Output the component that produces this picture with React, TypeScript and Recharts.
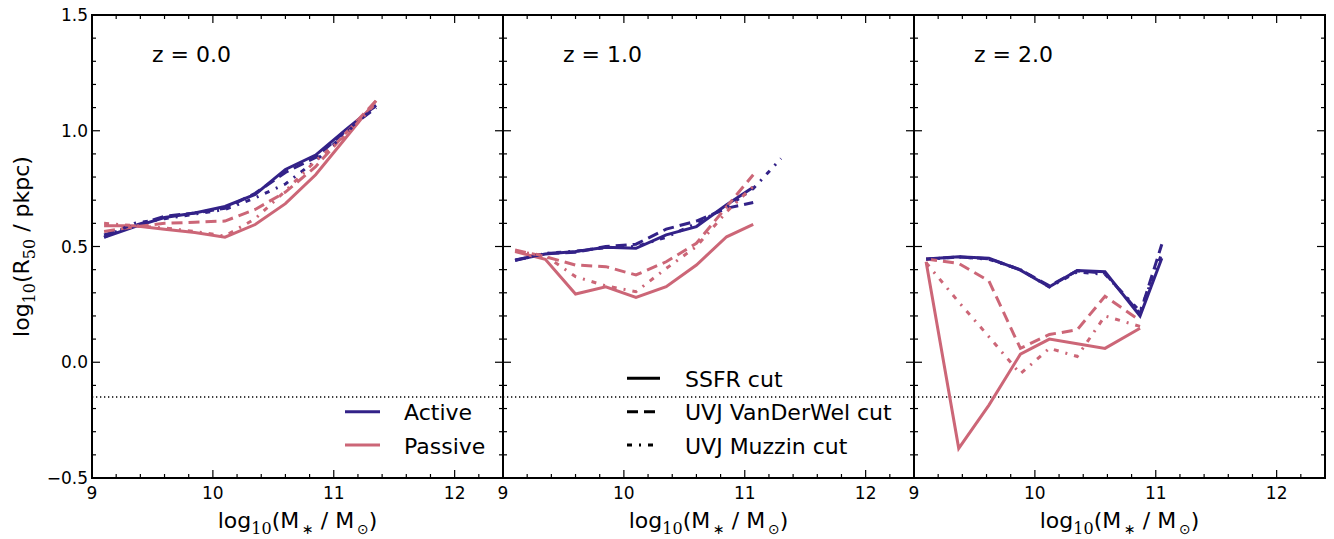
import React from "react";
import {
  Legend,
  Line,
  LineChart,
  ReferenceArea,
  ReferenceLine,
  XAxis,
  YAxis,
} from "recharts";

const ACTIVE = "#332288";
const PASSIVE = "#CC6677";
const FONT = "'DejaVu Sans', sans-serif";
const MATH = "'DejaVu Serif', serif";

// geometry of one panel inside its own chart (chart coords)
const PLOT_LEFT = 90;
const PLOT_TOP = 15;
const PLOT_W = 411;
const PLOT_H = 463;
const CHART_W = PLOT_LEFT + PLOT_W + 10;
const CHART_H = 539;
const PANEL_LEFTS = [92, 503, 914];

// axis ticks
const xTicks = [9, 9.2, 9.4, 9.6, 9.8, 10, 10.2, 10.4, 10.6, 10.8, 11, 11.2, 11.4, 11.6, 11.8, 12, 12.2];
const xMajor = [9, 10, 11, 12];
const yTicks = [
  -0.5, -0.4, -0.3, -0.2, -0.1, 0, 0.1, 0.2, 0.3, 0.4, 0.5, 0.6, 0.7, 0.8, 0.9,
  1, 1.1, 1.2, 1.3, 1.4, 1.5,
];
const yMajor = [-0.5, 0, 0.5, 1, 1.5];
const yMajorLabels = ["\u22120.5", "0.0", "0.5", "1.0", "1.5"];

// z = 0.0
const z0Mass = [9.1, 9.35, 9.6, 9.85, 10.1, 10.35, 10.6, 10.85, 11.1, 11.35];
const z0ActiveSsfr = [0.54, 0.585, 0.625, 0.645, 0.673, 0.725, 0.833, 0.895, 1.005, 1.11];
const z0ActiveVdw = [0.55, 0.59, 0.63, 0.645, 0.665, 0.73, 0.82, 0.885, 1.0, 1.1];
const z0ActiveMuzzin = [0.54, 0.6, 0.62, 0.64, 0.66, 0.71, 0.77, 0.87, 0.99, 1.11];
const z0PassiveSsfr = [0.59, 0.59, 0.575, 0.56, 0.54, 0.595, 0.685, 0.81, 0.97, 1.13];
const z0PassiveVdw = [0.565, 0.585, 0.6, 0.605, 0.61, 0.66, 0.735, 0.845, 0.99, 1.13];
const z0PassiveMuzzin = [0.6, 0.59, 0.58, 0.565, 0.545, 0.62, 0.74, 0.87, 0.98, 1.12];

// z = 1.0
const z1Mass = [9.1, 9.35, 9.6, 9.85, 10.1, 10.35, 10.6, 10.85, 11.07, 11.3];
const z1ActiveSsfr = [0.442, 0.468, 0.478, 0.497, 0.492, 0.55, 0.586, 0.68, 0.756, null];
const z1ActiveVdw = [0.44, 0.47, 0.475, 0.5, 0.51, 0.575, 0.61, 0.665, 0.69, null];
const z1ActiveMuzzin = [0.44, 0.47, 0.48, 0.495, 0.5, 0.54, 0.6, 0.67, 0.75, 0.88];
const z1PassiveSsfr = [0.478, 0.445, 0.295, 0.326, 0.28, 0.326, 0.42, 0.542, 0.596, null];
const z1PassiveVdw = [0.485, 0.456, 0.42, 0.413, 0.377, 0.434, 0.514, 0.672, 0.81, null];
const z1PassiveMuzzin = [0.48, 0.46, 0.37, 0.33, 0.305, 0.405, 0.5, 0.65, 0.76, null];

// z = 2.0
const z2Mass = [9.1, 9.37, 9.62, 9.88, 10.12, 10.35, 10.58, 10.87, 11.05];
const z2ActiveSsfr = [0.446, 0.456, 0.449, 0.398, 0.326, 0.396, 0.391, 0.2, 0.449];
const z2ActiveVdw = [0.445, 0.455, 0.447, 0.4, 0.33, 0.395, 0.385, 0.21, 0.51];
const z2ActiveMuzzin = [0.445, 0.455, 0.445, 0.4, 0.325, 0.39, 0.38, 0.22, 0.47];
const z2PassiveSsfr = [0.434, -0.372, -0.185, 0.035, 0.1, 0.08, 0.06, 0.147, null];
const z2PassiveVdw = [0.446, 0.427, 0.351, 0.06, 0.12, 0.14, 0.285, 0.18, null];
const z2PassiveMuzzin = [0.43, 0.26, 0.11, -0.05, 0.06, 0.025, 0.2, 0.155, null];

const cuts = [
  { key: "ssfr", label: "SSFR cut", dash: undefined as string | undefined },
  { key: "vdw", label: "UVJ VanDerWel cut", dash: "11 6" },
  { key: "muzzin", label: "UVJ Muzzin cut", dash: "5 7 2 7" },
];

type Pt = { x: number; y: number };
const toPoints = (mass: number[], vals: (number | null)[]): Pt[] =>
  mass
    .map((x, i) => ({ x, y: vals[i] }))
    .filter((p): p is Pt => p.y !== null);

const panels = [
  {
    z: "0.0",
    active: {
      ssfr: toPoints(z0Mass, z0ActiveSsfr),
      vdw: toPoints(z0Mass, z0ActiveVdw),
      muzzin: toPoints(z0Mass, z0ActiveMuzzin),
    },
    passive: {
      ssfr: toPoints(z0Mass, z0PassiveSsfr),
      vdw: toPoints(z0Mass, z0PassiveVdw),
      muzzin: toPoints(z0Mass, z0PassiveMuzzin),
    },
  },
  {
    z: "1.0",
    active: {
      ssfr: toPoints(z1Mass, z1ActiveSsfr),
      vdw: toPoints(z1Mass, z1ActiveVdw),
      muzzin: toPoints(z1Mass, z1ActiveMuzzin),
    },
    passive: {
      ssfr: toPoints(z1Mass, z1PassiveSsfr),
      vdw: toPoints(z1Mass, z1PassiveVdw),
      muzzin: toPoints(z1Mass, z1PassiveMuzzin),
    },
  },
  {
    z: "2.0",
    active: {
      ssfr: toPoints(z2Mass, z2ActiveSsfr),
      vdw: toPoints(z2Mass, z2ActiveVdw),
      muzzin: toPoints(z2Mass, z2ActiveMuzzin),
    },
    passive: {
      ssfr: toPoints(z2Mass, z2PassiveSsfr),
      vdw: toPoints(z2Mass, z2PassiveVdw),
      muzzin: toPoints(z2Mass, z2PassiveMuzzin),
    },
  },
];

function XTick(props: any) {
  const { x, y, payload } = props;
  const v = payload?.value;
  const major = xMajor.includes(v);
  const len = major ? 8 : 4;
  return (
    <g>
      <line x1={x} y1={y} x2={x} y2={y - len} stroke="#000" strokeWidth={1.2} />
      <line x1={x} y1={PLOT_TOP} x2={x} y2={PLOT_TOP + len} stroke="#000" strokeWidth={1.2} />
      {major && (
        <text x={x} y={y + 21} textAnchor="middle" fontSize={17} fontFamily={FONT} fill="#000">
          {v}
        </text>
      )}
    </g>
  );
}

function YTick(props: any) {
  const { x, y, payload, showLabel } = props;
  const v = payload?.value;
  const idx = yMajor.indexOf(v);
  const len = idx >= 0 ? 8 : 4;
  return (
    <g>
      <line x1={x} y1={y} x2={x + len} y2={y} stroke="#000" strokeWidth={1.2} />
      <line x1={x + PLOT_W} y1={y} x2={x + PLOT_W - len} y2={y} stroke="#000" strokeWidth={1.2} />
      {showLabel && idx >= 0 && (
        <text x={x - 4} y={y + 6} textAnchor="end" fontSize={17} fontFamily={FONT} fill="#000">
          {yMajorLabels[idx]}
        </text>
      )}
    </g>
  );
}

function XTitle() {
  return (
    <text
      x={PLOT_LEFT + PLOT_W / 2}
      y={PLOT_TOP + PLOT_H + 50}
      textAnchor="middle"
      fontSize={22}
      fontFamily={FONT}
      fill="#000"
    >
      log
      <tspan dy={6} fontSize={16} fontFamily={MATH}>10</tspan>
      <tspan dy={-6}>(M</tspan>
      <tspan dy={6} fontSize={14}>{"\u2009\u2217"}</tspan>
      <tspan dy={-6}> / M</tspan>
      <tspan dy={6} fontSize={14}>{"\u2009\u2299"}</tspan>
      <tspan dy={-6}>)</tspan>
    </text>
  );
}

function YTitle() {
  const cx = PLOT_LEFT - 63;
  const cy = PLOT_TOP + PLOT_H / 2;
  return (
    <text
      x={cx}
      y={cy}
      transform={`rotate(-90 ${cx} ${cy})`}
      textAnchor="middle"
      fontSize={22}
      fontFamily={FONT}
      fill="#000"
    >
      log
      <tspan dy={6} fontSize={16} fontFamily={MATH}>10</tspan>
      <tspan dy={-6}>(R</tspan>
      <tspan dy={6} fontSize={16} fontFamily={MATH}>50</tspan>
      <tspan dy={-6}> / pkpc)</tspan>
    </text>
  );
}

function PanelOverlay({ z, legend }: { z: string; legend: "class" | "cut" | null }) {
  const left = PLOT_LEFT;
  return (
    <svg width={CHART_W} height={CHART_H} style={{ display: "block" }}>
      <text x={left + 60} y={62} fontSize={22} fontFamily={FONT} fill="#000">
        z = {z}
      </text>
      {legend === "class" &&
        [
          { label: "Active", color: ACTIVE, y: 411.7 },
          { label: "Passive", color: PASSIVE, y: 445 },
        ].map((r) => (
          <g key={r.label}>
            <line x1={left + 253} x2={left + 288} y1={r.y} y2={r.y} stroke={r.color} strokeWidth={3} />
            <text x={left + 312} y={r.y + 8.5} fontSize={22} fontFamily={FONT} fill="#000">
              {r.label}
            </text>
          </g>
        ))}
      {legend === "cut" &&
        cuts.map((c, i) => {
          const y = 378.3 + i * 33.4;
          return (
            <g key={c.key}>
              <line x1={left + 124} x2={left + 157} y1={y} y2={y} stroke="#000" strokeWidth={3} strokeDasharray={c.dash} />
              <text x={left + 182} y={y + 8.5} fontSize={22} fontFamily={FONT} fill="#000">
                {c.label}
              </text>
            </g>
          );
        })}
    </svg>
  );
}

function Panel({ index }: { index: number }) {
  const p = panels[index];
  const first = index === 0;
  const legend = index === 0 ? "class" : index === 1 ? "cut" : null;
  const bottomSpace = CHART_H - PLOT_TOP - PLOT_H;
  return (
    <div style={{ position: "absolute", left: PANEL_LEFTS[index] - PLOT_LEFT, top: 0 }}>
      <LineChart
        width={CHART_W}
        height={CHART_H}
        margin={{ top: PLOT_TOP, right: 10, bottom: 1, left: 1 }}
      >
        <XAxis
          type="number"
          dataKey="x"
          domain={[9, 12.4]}
          ticks={xTicks}
          interval={0}
          allowDataOverflow
          height={bottomSpace - 1}
          tickSize={0}
          tickMargin={0}
          axisLine={false}
          tickLine={false}
          tick={<XTick />}
          label={<XTitle />}
        />
        <YAxis
          type="number"
          dataKey="y"
          domain={[-0.5, 1.5]}
          ticks={yTicks}
          interval={0}
          allowDataOverflow
          width={PLOT_LEFT - 1}
          tickSize={0}
          tickMargin={0}
          axisLine={false}
          tickLine={false}
          tick={<YTick showLabel={first} />}
          label={first ? <YTitle /> : undefined}
        />
        <ReferenceLine y={-0.15} stroke="#000" strokeWidth={1.3} strokeDasharray="1.3 2.7" />
        {cuts.map((c) => [
          <Line
            key={`a-${c.key}`}
            data={(p.active as any)[c.key]}
            dataKey="y"
            type="linear"
            stroke={ACTIVE}
            strokeWidth={3}
            strokeDasharray={c.dash}
            dot={false}
            activeDot={false}
            isAnimationActive={false}
          />,
          <Line
            key={`p-${c.key}`}
            data={(p.passive as any)[c.key]}
            dataKey="y"
            type="linear"
            stroke={PASSIVE}
            strokeWidth={3}
            strokeDasharray={c.dash}
            dot={false}
            activeDot={false}
            isAnimationActive={false}
          />,
        ])}
        <ReferenceArea
          x1={9}
          x2={12.4}
          y1={-0.5}
          y2={1.5}
          fill="none"
          fillOpacity={0}
          stroke="#000"
          strokeWidth={2}
        />
        <Legend
          verticalAlign="middle"
          layout="horizontal"
          wrapperStyle={{ left: 0, top: 0, width: CHART_W, height: CHART_H, pointerEvents: "none" }}
          content={() => <PanelOverlay z={p.z} legend={legend} />}
        />
      </LineChart>
    </div>
  );
}

export default function App() {
  return (
    <div
      style={{
        position: "absolute",
        left: 0,
        top: 0,
        width: 1334,
        height: 539,
        background: "#fff",
        fontFamily: FONT,
      }}
    >
      {panels.map((_, i) => (
        <Panel key={i} index={i} />
      ))}
    </div>
  );
}
